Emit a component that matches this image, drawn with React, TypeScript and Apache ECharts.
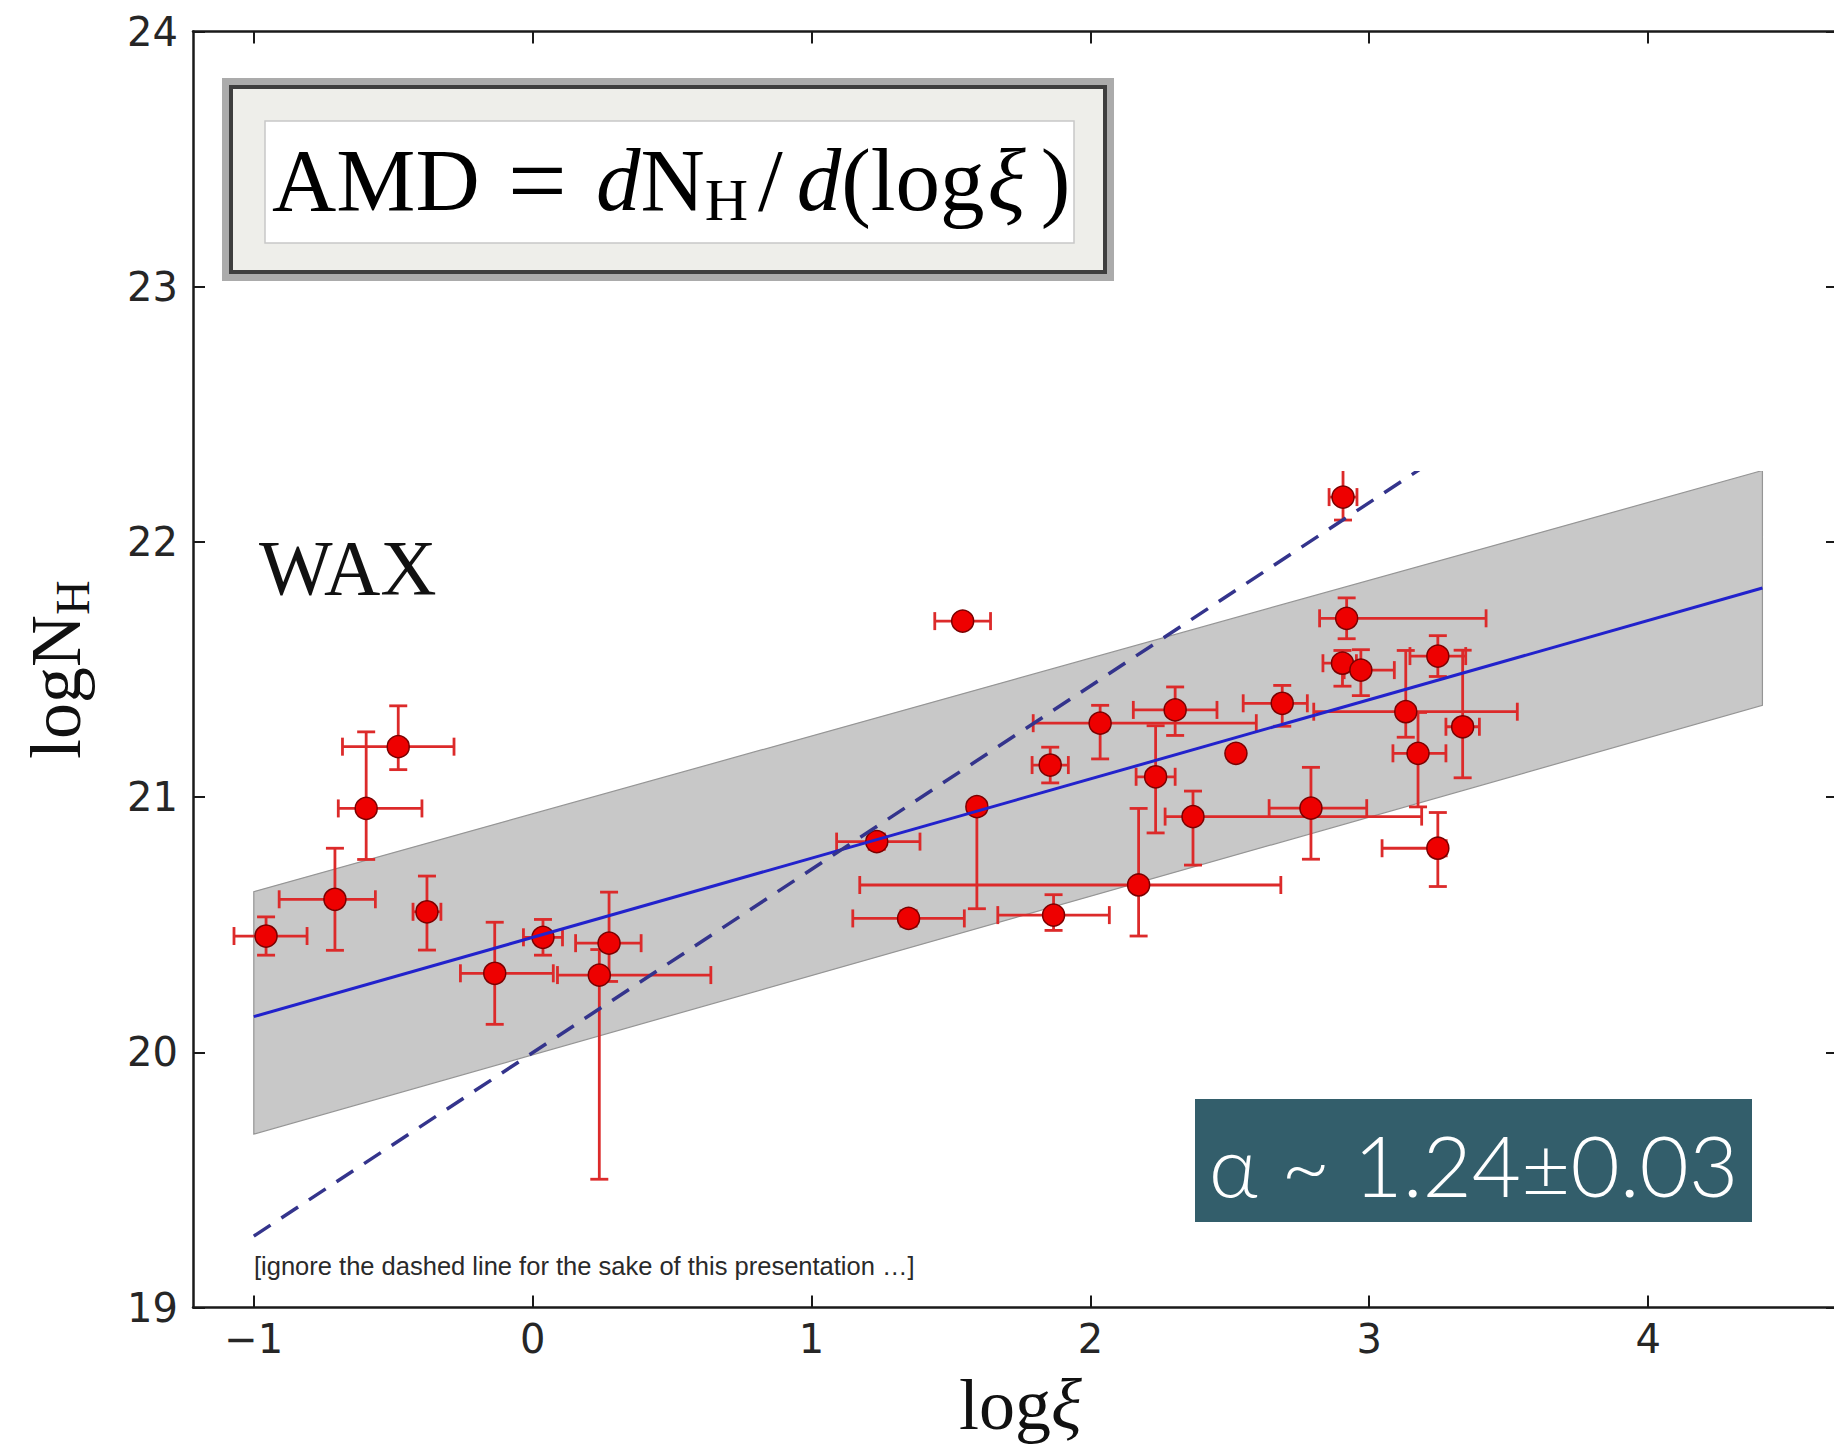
import React, { useEffect, useRef } from 'react';
import * as echarts from 'echarts';

// ---- axis ticks ----
const xTicks = [-1, 0, 1, 2, 3, 4];
const yTicks = [19, 20, 21, 22, 23, 24];

// ---- measured points: log xi, log N_H and asymmetric errors ----
const logXi = [-0.956, -0.709, -0.597, -0.482, -0.379, -0.136, 0.037, 0.239, 0.274, 1.234, 1.348, 1.542, 1.593, 1.856, 1.868, 2.035, 2.173, 2.234, 2.304, 2.368, 2.522, 2.688, 2.791, 2.906, 2.919, 2.904, 2.97, 3.131, 3.175, 3.246, 3.335, 3.246];
const logNH = [20.456, 20.6, 20.956, 21.198, 20.551, 20.31, 20.451, 20.303, 20.428, 20.826, 20.525, 21.69, 20.963, 21.126, 20.538, 21.29, 20.656, 21.08, 21.342, 20.924, 21.172, 21.368, 20.957, 22.176, 21.701, 21.525, 21.498, 21.335, 21.172, 21.553, 21.276, 20.8];
const xErrLow = [0.115, 0.2, 0.1, 0.2, 0.05, 0.123, 0.07, 0.15, 0.12, 0.144, 0.2, 0.1, 0, 0.065, 0.2, 0.24, 1.0, 0.07, 0.15, 0.1, 0, 0.14, 0.15, 0.05, 0.097, 0.07, 0.06, 0.33, 0.09, 0.1, 0.06, 0.2];
const xErrHigh = [0.147, 0.145, 0.2, 0.2, 0.05, 0.21, 0.07, 0.4, 0.115, 0.155, 0.2, 0.1, 0, 0.065, 0.2, 0.56, 0.51, 0.07, 0.15, 0.82, 0, 0.09, 0.2, 0.05, 0.5, 0.05, 0.12, 0.4, 0.1, 0.1, 0.06, 0.03];
const yErrLow = [0.075, 0.2, 0.2, 0.09, 0.15, 0.2, 0.07, 0.8, 0.15, 0.03, 0.03, 0, 0.4, 0.07, 0.06, 0.14, 0.2, 0.22, 0.1, 0.19, 0, 0.09, 0.2, 0.09, 0.08, 0.09, 0.1, 0.1, 0.21, 0.08, 0.2, 0.15];
const yErrHigh = [0.075, 0.2, 0.3, 0.16, 0.14, 0.2, 0.07, 0.1, 0.2, 0.03, 0.03, 0, 0, 0.07, 0.08, 0.07, 0.3, 0.2, 0.09, 0.1, 0, 0.07, 0.16, 0.14, 0.08, 0.05, 0.08, 0.24, 0.16, 0.08, 0.3, 0.14];

// ---- fit, confidence band and dashed relation ----
const fitX = [-1.0, 4.41];
const fitY = [20.14, 21.82];
const bandX = [-1.0, 4.41];
const bandUpper = [20.63, 22.28];
const bandLower = [19.68, 21.36];
const dashedX = [-1.0, 3.3];
const dashedY = [19.28, 22.37];

// ---- texts ----
const xName = '{a|log}{b|ξ}';
const yName = '{a|logN}{b|H}';
const amdText = '{n|AMD}{eq|=}{i|d}{n|N}{s|H}{sl|/}{i|d}{n|(log}{x|ξ}{rp|)}';
const waxText = 'WAX';
const noteText = '[ignore the dashed line for the sake of this presentation …]';
const alphaText = 'α ~ 1.24±0.03';

const fmt = (v: number) => (v < 0 ? '\u2212' + Math.abs(v) : String(v));

export default function App() {
  const ref = useRef<HTMLDivElement>(null);
  useEffect(() => {
    if (!ref.current) return;
    const chart = echarts.init(ref.current, undefined, { renderer: 'svg' });
    const serif = 'Liberation Serif';
    const sans = 'DejaVu Sans';
    const errColor = '#dc2a2a';

    const errData = logXi.map((x, i) => [x, logNH[i], xErrLow[i], xErrHigh[i], yErrLow[i], yErrHigh[i]]);
    const pts = logXi.map((x, i) => [x, logNH[i]]);

    const axisLine = { show: true, onZero: false, lineStyle: { color: '#1a1a1a', width: 2.5 } };
    const tick = { show: true, inside: true, length: 12, lineStyle: { color: '#1a1a1a', width: 2 } };
    const F = 89;
    const base = { fontFamily: serif, fontSize: F, lineHeight: 100, fill: '#000' };

    chart.setOption({
      animation: false,
      backgroundColor: '#ffffff',
      grid: { left: 193, right: 22, top: 31.6, bottom: 144.4 },
      xAxis: [
        {
          type: 'value', min: -1.218, max: 4.681, position: 'bottom',
          axisLine, splitLine: { show: false },
          axisTick: { ...tick, customValues: xTicks },
          axisLabel: { customValues: xTicks, formatter: fmt, fontFamily: sans, fontSize: 40, color: '#262626', margin: 11 },
          name: xName, nameLocation: 'middle', nameGap: 57,
          nameTextStyle: {
            padding: [0, 0, 0, 10],
            rich: {
              a: { fontFamily: serif, fontSize: 72, lineHeight: 80, color: '#111' },
              b: { fontFamily: serif, fontStyle: 'italic', fontSize: 72, lineHeight: 80, color: '#111' },
            },
          },
        },
        {
          type: 'value', min: -1.218, max: 4.681, position: 'top',
          axisLine, splitLine: { show: false },
          axisTick: { ...tick, customValues: xTicks },
          axisLabel: { show: false },
        },
      ],
      yAxis: [
        {
          type: 'value', min: yTicks[0], max: yTicks[yTicks.length - 1], interval: 1, position: 'left',
          axisLine, splitLine: { show: false }, axisTick: tick,
          axisLabel: { fontFamily: sans, fontSize: 40, color: '#262626', margin: 15 },
          name: yName, nameLocation: 'middle', nameRotate: 90, nameGap: 97,
          nameTextStyle: {
            rich: {
              a: { fontFamily: serif, fontSize: 72, lineHeight: 80, color: '#111' },
              b: { fontFamily: serif, fontSize: 48, lineHeight: 30, verticalAlign: 'bottom', color: '#111' },
            },
          },
        },
        {
          type: 'value', min: yTicks[0], max: yTicks[yTicks.length - 1], interval: 1, position: 'right',
          axisLine, splitLine: { show: false }, axisTick: tick,
          axisLabel: { show: false },
        },
      ],
      series: [
        {
          type: 'custom', name: 'band', z: 1, silent: true,
          data: [[bandX[0], bandLower[0]]],
          renderItem: (params: any, api: any) => {
            const pts2 = [
              api.coord([bandX[0], bandLower[0]]),
              api.coord([bandX[1], bandLower[1]]),
              api.coord([bandX[1], bandUpper[1]]),
              api.coord([bandX[0], bandUpper[0]]),
            ];
            return { type: 'polygon', shape: { points: pts2 }, style: { fill: '#c8c8c8', stroke: '#959595', lineWidth: 1.2 } };
          },
        },
        {
          type: 'custom', name: 'errors', z: 2, silent: true,
          data: errData,
          encode: { x: 0, y: 1 },
          renderItem: (params: any, api: any) => {
            const x = api.value(0), y = api.value(1);
            const xl = api.value(2), xh = api.value(3), yl = api.value(4), yh = api.value(5);
            const style = { stroke: errColor, lineWidth: 2.8 };
            const cap = 9;
            const children: any[] = [];
            const ln = (x1: number, y1: number, x2: number, y2: number) =>
              children.push({ type: 'line', shape: { x1, y1, x2, y2 }, style });
            if (xl > 0 || xh > 0) {
              const p1 = api.coord([x - xl, y]);
              const p2 = api.coord([x + xh, y]);
              ln(p1[0], p1[1], p2[0], p2[1]);
              ln(p1[0], p1[1] - cap, p1[0], p1[1] + cap);
              ln(p2[0], p2[1] - cap, p2[0], p2[1] + cap);
            }
            if (yl > 0 || yh > 0) {
              const q1 = api.coord([x, y - yl]);
              const q2 = api.coord([x, y + yh]);
              ln(q1[0], q1[1], q2[0], q2[1]);
              ln(q1[0] - cap, q1[1], q1[0] + cap, q1[1]);
              ln(q2[0] - cap, q2[1], q2[0] + cap, q2[1]);
            }
            return { type: 'group', children };
          },
        },
        {
          type: 'scatter', name: 'WAX', z: 3, data: pts, symbol: 'circle', symbolSize: 22,
          itemStyle: { color: '#ee0000', borderColor: '#7a0000', borderWidth: 1.5, opacity: 1 },
        },
        {
          type: 'line', name: 'fit', z: 4, data: fitX.map((x, i) => [x, fitY[i]]), symbol: 'none',
          lineStyle: { color: '#2222cc', width: 3 },
        },
        {
          type: 'line', name: 'dashed', z: 4, data: dashedX.map((x, i) => [x, dashedY[i]]), symbol: 'none',
          lineStyle: { color: '#34348c', width: 3.5, type: [20, 13] },
        },
      ],
      graphic: [
        // white patch in the original slide that hides the top of the dashed line
        { type: 'rect', z: 90, shape: { x: 1113, y: 283, width: 655, height: 188 }, style: { fill: '#ffffff' } },
        { type: 'rect', z: 100, shape: { x: 222, y: 78, width: 892, height: 203 }, style: { fill: '#ababab' } },
        { type: 'rect', z: 101, shape: { x: 229, y: 85, width: 878, height: 189 }, style: { fill: '#3e3e3e' } },
        { type: 'rect', z: 102, shape: { x: 233, y: 89, width: 870, height: 181 }, style: { fill: '#eeeeea' } },
        { type: 'rect', z: 103, shape: { x: 265, y: 121, width: 809, height: 122 }, style: { fill: '#ffffff', stroke: '#c8c8c8', lineWidth: 1.5 } },
        {
          type: 'text', z: 104, x: 272, y: 130,
          style: {
            text: amdText, verticalAlign: 'top', align: 'left',
            rich: {
              n: { ...base },
              eq: { ...base, fontSize: 105, padding: [0, 29, 0, 28] },
              i: { ...base, fontStyle: 'italic' },
              s: { fontFamily: serif, fontSize: 60, lineHeight: 57, verticalAlign: 'bottom', fill: '#000' },
              sl: { ...base, padding: [0, 14, 0, 10] },
              x: { ...base, fontStyle: 'italic', padding: [0, 0, 0, 3] },
              rp: { ...base, padding: [0, 0, 0, 15] },
            },
          },
        },
        {
          type: 'text', z: 104, x: 259, y: 567,
          style: { text: waxText, fontFamily: serif, fontSize: 78, fill: '#111', verticalAlign: 'middle', align: 'left' },
        },
        {
          type: 'text', z: 104, x: 254, y: 1266,
          style: { text: noteText, fontFamily: 'Liberation Sans', fontSize: 25.5, fill: '#2a2a2a', verticalAlign: 'middle', align: 'left' },
        },
        { type: 'rect', z: 104, shape: { x: 1195, y: 1099, width: 557, height: 123 }, style: { fill: '#335e6b' } },
        {
          type: 'text', z: 105, x: 1473.5, y: 1164,
          style: { text: alphaText, fontFamily: 'Lato, "Open Sans", sans-serif', fontWeight: 300, fontSize: 85, fill: '#ffffff', verticalAlign: 'middle', align: 'center' },
        },
      ],
    });
    return () => chart.dispose();
  }, []);

  return (
    <div style={{ position: 'fixed', left: 0, top: 0, width: 1834, height: 1452, overflow: 'hidden', background: '#fff' }}>
      <div ref={ref} style={{ width: 1860, height: 1452 }} />
    </div>
  );
}
